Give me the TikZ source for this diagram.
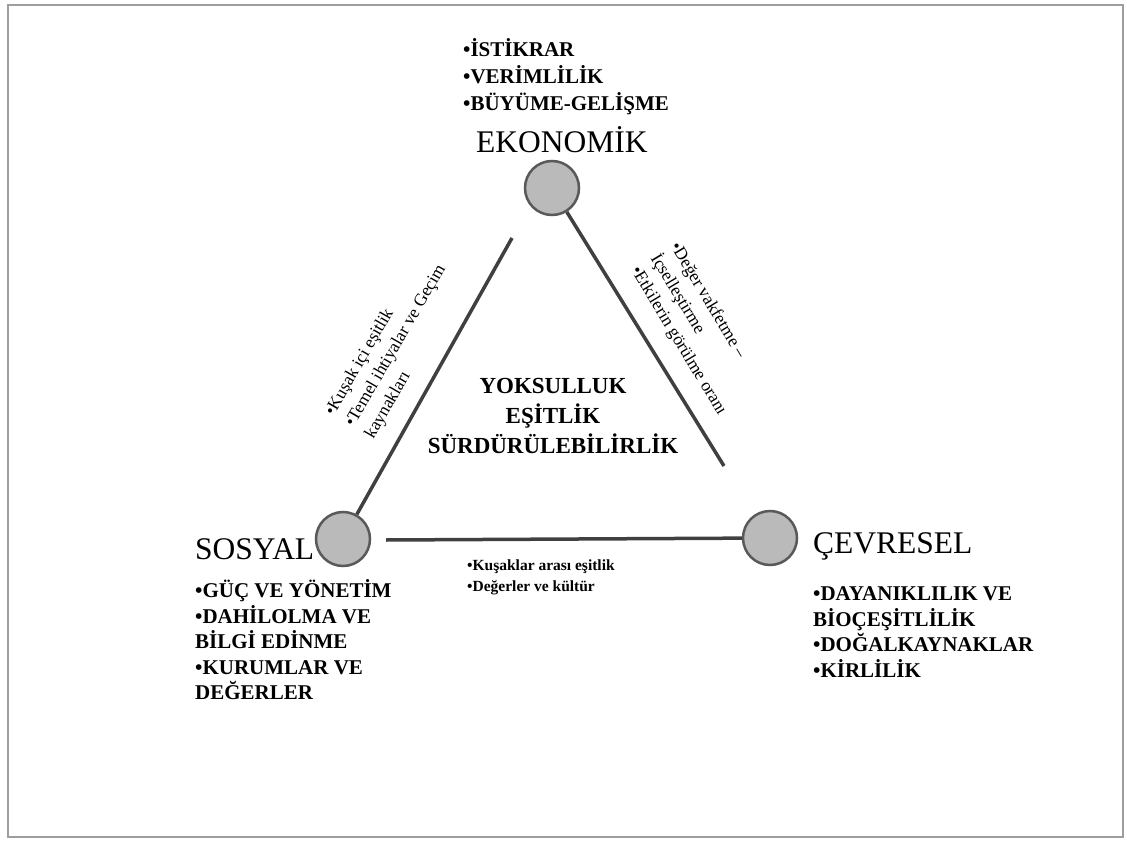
\documentclass[tikz,border=0pt]{standalone}
\usepackage{fontspec}
\setmainfont{Liberation Serif}[BoldFont={Liberation Serif Bold}]
\begin{document}
\begin{tikzpicture}[x=1pt,y=-1pt,
  circ/.style={circle, draw=black!65, fill=black!27, line width=2.5pt, minimum size=54pt, inner sep=0pt},
  edge/.style={draw=black!75, line width=3.5pt},
  head/.style={font=\fontsize{31.5}{36}\selectfont, inner sep=0pt, anchor=west},
  blist/.style={font=\fontsize{21}{25.5}\selectfont\bfseries, align=left, inner sep=0pt, anchor=west},
  centre/.style={font=\fontsize{23}{30}\selectfont\bfseries, align=center, inner sep=0pt},
  side/.style={font=\fontsize{17.5}{23}\selectfont, align=left, inner sep=0pt},
  small/.style={font=\fontsize{15.5}{21}\selectfont\bfseries, align=left, inner sep=0pt, anchor=west}]
\useasboundingbox (0,0) rectangle (1127,845);
\draw[black!38, line width=2pt] (8,5) rectangle (1123,837);

% circles
\node[circ] (eko) at (552,188) {};
\node[circ] (sos) at (343,539) {};
\node[circ] (cev) at (770,538) {};

% free ends of connectors
\coordinate (lt) at (512,238);
\coordinate (rb) at (724,466);
\coordinate (bl) at (386,540);

\draw[edge] (lt) -- (sos);
\draw[edge] (eko) -- (rb);
\draw[edge] (bl) -- (cev);

% headings
\node[head] (ekoT) at (476,140) {EKONOMİK};
\node[head] (sosT) at (195,549) {SOSYAL};
\node[head] (cevT) at (813,546) {ÇEVRESEL};

% lists
\node[blist, font=\fontsize{21}{27}\selectfont\bfseries] (ekoL) at (463,77) {•İSTİKRAR\\•VERİMLİLİK\\•BÜYÜME-GELİŞME};
\node[blist] (sosL) at (195,640) {•GÜÇ VE YÖNETİM\\•DAHİLOLMA VE\\BİLGİ EDİNME\\•KURUMLAR VE\\DEĞERLER};
\node[blist] (cevL) at (813,632) {•DAYANIKLILIK VE\\BİOÇEŞİTLİLİK\\•DOĞALKAYNAKLAR\\•KİRLİLİK};

% centre
\node[centre] (mid) at (553,416) {YOKSULLUK\\EŞİTLİK\\SÜRDÜRÜLEBİLİRLİK};

% edge labels
\node[side, rotate=60] (leftL) at (396,346) {•Kuşak içi eşitlik\\•Temel ihtiyalar  ve Geçim\\kaynakları};
\node[side, rotate=-59] (rightL) at (698,329) {•Değer vakfetme –\\İçselleştirme\\•Etkilerin görülme  oranı};
\node[small] (botL) at (467,577) {•Kuşaklar arası eşitlik\\•Değerler ve kültür};
\end{tikzpicture}
\end{document}
